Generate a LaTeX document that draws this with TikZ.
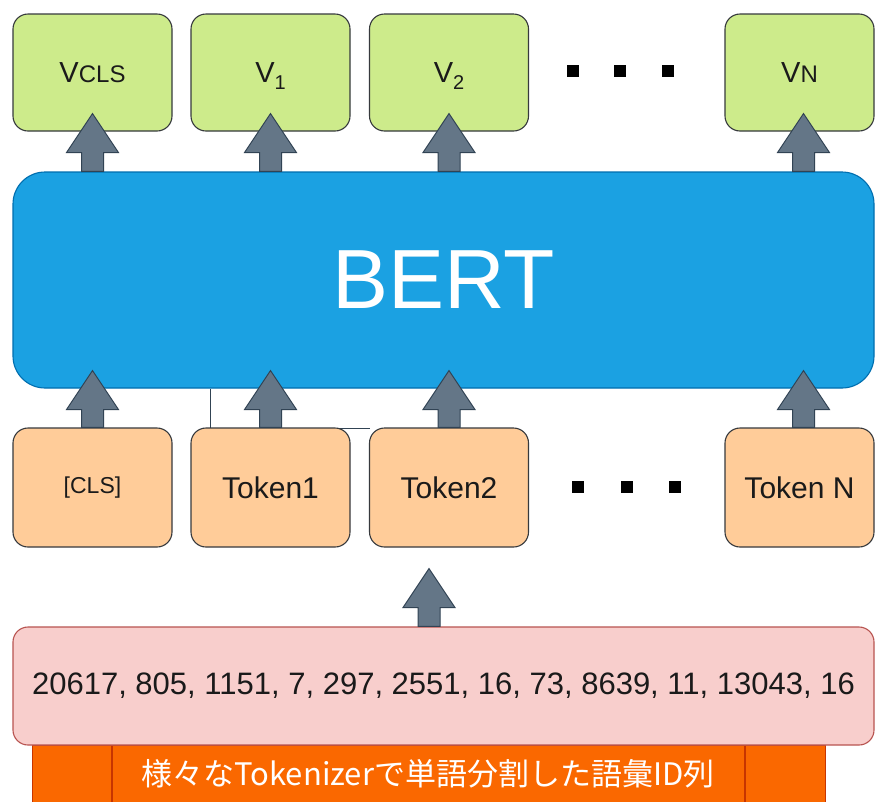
\documentclass[tikz,border=0pt]{standalone}
\usepackage{fontspec}
\setmainfont{Liberation Sans}
\newfontfamily\jpfont{Noto Sans CJK JP}
\usetikzlibrary{calc}

\definecolor{vgreen}{HTML}{CDEB8B}
\definecolor{tokorange}{HTML}{FFCC99}
\definecolor{boxline}{HTML}{36393D}
\definecolor{bertblue}{HTML}{1BA1E2}
\definecolor{bertline}{HTML}{006EAF}
\definecolor{idpink}{HTML}{F8CECC}
\definecolor{idline}{HTML}{B85450}
\definecolor{barorange}{HTML}{FA6800}
\definecolor{barline}{HTML}{C73500}
\definecolor{arrfill}{HTML}{647687}
\definecolor{arrline}{HTML}{314354}
\definecolor{textgray}{HTML}{1A1A1A}

% block arrow from a tail point up to a head point; #3 = how far the tip passes the head point
\newcommand\blockarrow[3]{%
  \draw[blockarr] let \p1=#1, \p2=#2 in
    (\x1-11pt,\y1) -- (\x1-11pt,\y2+#3pt-39pt) -- (\x1-26pt,\y2+#3pt-39pt)
    -- (\x1,\y2+#3pt) -- (\x1+26pt,\y2+#3pt-39pt) -- (\x1+11pt,\y2+#3pt-39pt)
    -- (\x1+11pt,\y1) -- cycle;}

\newcommand\mainsize{\fontsize{29}{34}\selectfont}
\newcommand\subsize{\fontsize{20}{24}\selectfont}

\tikzset{
  box/.style={draw=boxline, line width=1.1pt, rounded corners=15pt, inner sep=0pt, text=textgray},
  vbox/.style={box, fill=vgreen, minimum width=159, minimum height=117, text depth=0pt},
  tokbox/.style={box, fill=tokorange, minimum width=159, minimum height=119},
  blockarr/.style={fill=arrfill, draw=arrline, line width=1pt, line join=miter},
  dotmark/.style={fill=black, minimum size=12, inner sep=0pt},
  thinline/.style={draw=arrline, line width=1pt},
}

\begin{document}
\begin{tikzpicture}[x=1pt, y=-1pt]
\clip (0,0) rectangle (875,801);
\fill[white] (0,0) rectangle (875,801);

% output vectors
\node[vbox] (vcls) at (92.5,72.5) {\mainsize V\fontsize{24}{28}\selectfont CLS};
\node[vbox] (v1) at (270.5,72.5) {\mainsize V\raisebox{-7pt}{\subsize 1}};
\node[vbox] (v2) at (449,72.5) {\mainsize V\raisebox{-7pt}{\subsize 2}};
\node[vbox, minimum width=149] (vn) at (799.5,72.5) {\mainsize V\fontsize{24}{28}\selectfont N};

\node[dotmark] (td1) at (573,71) {};
\node[dotmark] (td2) at (620,71) {};
\node[dotmark] (td3) at (668,71) {};

% encoder
\node[draw=bertline, line width=1.1pt, fill=bertblue, rounded corners=32pt,
      minimum width=861, minimum height=216, text=white, inner sep=0pt]
  (bert) at (443.5,280) {\fontsize{84}{96}\selectfont BERT};

% input tokens
\coordinate (bend) at (210,428);
\draw[thinline] (bend |- bert.south) -- (bend) -- (370,428);

\node[tokbox] (cls) at (92.5,487.5) {\fontsize{23}{28}\selectfont [CLS]};
\node[tokbox] (tok1) at (270.5,487.5) {\fontsize{30}{36}\selectfont Token1};
\node[tokbox] (tok2) at (449,487.5) {\fontsize{30}{36}\selectfont Token2};
\node[tokbox, minimum width=149] (tokn) at (799.5,487.5) {\fontsize{30}{36}\selectfont Token N};

\node[dotmark] (bd1) at (578,487) {};
\node[dotmark] (bd2) at (627,487) {};
\node[dotmark] (bd3) at (675,487) {};

% vocabulary id sequence
\node[fill=barorange, draw=barline, line width=1.1pt, minimum width=793, minimum height=64,
      anchor=north west, inner sep=0pt] (bar) at (32,745) {};
\draw[barline, line width=1.1pt] ($(bar.north west)+(80,0)$) -- ($(bar.south west)+(80,0)$);
\draw[barline, line width=1.1pt] ($(bar.north west)+(713,0)$) -- ($(bar.south west)+(713,0)$);
\node[text=white, inner sep=0pt] (barlabel) at (428,774)
  {\jpfont\fontsize{31}{36}\selectfont 様々なTokenizerで単語分割した語彙ID列};

\node[draw=idline, line width=1.1pt, fill=idpink, rounded corners=15pt, text=textgray,
      minimum width=861, minimum height=118, inner sep=0pt]
  (ids) at (443.5,686) {\fontsize{31}{36}\selectfont 20617, 805, 1151, 7, 297, 2551, 16, 73, 8639, 11, 13043, 16};

% arrows
\blockarrow{(bert.north -| vcls.south)}{(vcls.south)}{18}
\blockarrow{(bert.north -| v1.south)}{(v1.south)}{18}
\blockarrow{(bert.north -| v2.south)}{(v2.south)}{18}
\blockarrow{($(bert.north -| vn.south)+(4,0)$)}{(vn.south)}{18}

\blockarrow{(cls.north)}{(bert.south -| cls.north)}{18}
\blockarrow{(tok1.north)}{(bert.south -| tok1.north)}{18}
\blockarrow{(tok2.north)}{(bert.south -| tok2.north)}{18}
\blockarrow{($(tokn.north)+(4,0)$)}{(bert.south -| tokn.north)}{18}

\blockarrow{($(ids.north -| tok2.south)+(-20,0)$)}{(tok2.south)}{-21}
\end{tikzpicture}
\end{document}
